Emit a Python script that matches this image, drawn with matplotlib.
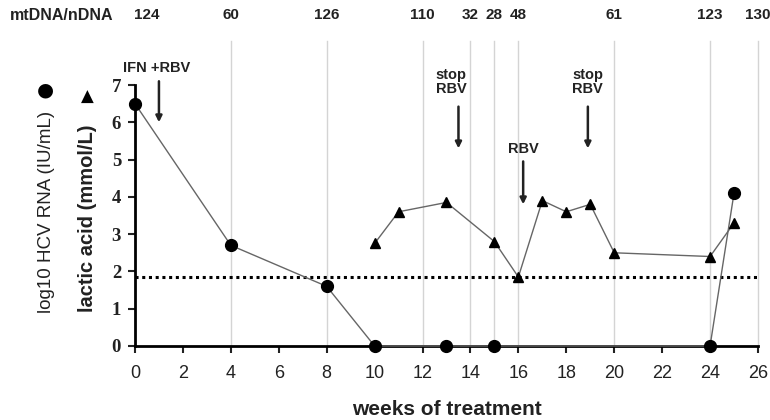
import matplotlib.pyplot as plt

# HCV RNA (log10 IU/mL), circles
hcv_weeks = [0, 4, 8, 10, 13, 15, 24, 25]
hcv_vals = [6.5, 2.7, 1.6, 0, 0, 0, 0, 4.1]

# lactic acid (mmol/L), triangles
lac_weeks = [10, 11, 13, 15, 16, 17, 18, 19, 20, 24, 25]
lac_vals = [2.75, 3.6, 3.85, 2.8, 1.85, 3.9, 3.6, 3.8, 2.5, 2.4, 3.3]

# mtDNA/nDNA ratio at sample weeks
mt_weeks = [0, 4, 8, 12, 14, 15, 16, 20, 24, 26]
mt_vals = [124, 60, 126, 110, 32, 28, 48, 61, 123, 130]
grid_weeks = [4, 8, 12, 14, 15, 16, 20, 24, 26]

lactate_limit = 1.84

# annotations: (text, text_x, text_y, arrow_x, arrow_top, arrow_bottom)
events = [
    ("IFN +RBV", 0.9, 7.46, 1.0, 7.1, 6.0),
    ("stop\nRBV", 13.2, 7.09, 13.5, 6.42, 5.3),
    ("RBV", 16.2, 5.28, 16.2, 4.95, 3.8),
    ("stop\nRBV", 18.9, 7.09, 18.9, 6.42, 5.3),
]

plt.rcParams['font.family'] = ['Liberation Sans', 'DejaVu Sans']

fig = plt.figure(figsize=(7.7, 4.2), dpi=100)
ax = fig.add_axes([0.1753, 0.1762, 0.8091, 0.6214])

ax.set_xlim(0, 26)
ax.set_ylim(0, 7)

# vertical grid lines reaching up to the top labels
for w in grid_weeks:
    ax.plot([w, w], [0, 8.17], color="#d4d4d4", lw=1, clip_on=False, zorder=0)

ax.axhline(lactate_limit, color="black", ls=(0, (1, 1.2)), lw=2.2, zorder=1)

ax.plot(hcv_weeks, hcv_vals, color="#666666", lw=1, marker="o", ms=8.5,
        mfc="black", mec="black", clip_on=False, zorder=3)
ax.plot(lac_weeks, lac_vals, color="#666666", lw=1, marker="^", ms=7.5,
        mfc="black", mec="black", clip_on=False, zorder=3)

for txt, tx, ty, axp, atop, abot in events:
    ax.text(tx, ty, txt, ha="center", va="center", fontsize=10.5,
            fontweight="bold", color="#222222", linespacing=1.0)
    ax.annotate("", xy=(axp, abot), xytext=(axp, atop),
                arrowprops=dict(arrowstyle="-|>", color="#222222", lw=1.8,
                                mutation_scale=9, shrinkA=0, shrinkB=0),
                annotation_clip=False)

# top row of mtDNA/nDNA values
for w, v in zip(mt_weeks, mt_vals):
    ax.text(w + (0.5 if w == 0 else 0), 8.87, str(v), ha="center", va="center",
            fontsize=11, fontweight="bold", color="#222222")
ax.text(-3.05, 8.87, "mtDNA/nDNA", ha="center", va="center", fontsize=11.5,
        fontweight="bold", color="#222222")

ax.spines["top"].set_visible(False)
ax.spines["right"].set_visible(False)
ax.spines["left"].set_linewidth(2)
ax.spines["bottom"].set_linewidth(2)

ax.set_xticks(range(0, 27, 2))
ax.set_yticks(range(0, 8))
ax.tick_params(axis="x", direction="out", length=5, width=1.5,
               labelsize=13, pad=9, colors="#222222")
ax.tick_params(axis="y", direction="out", length=5, width=1.5, pad=5,
               colors="#222222")
for lab in ax.get_yticklabels():
    lab.set_fontfamily("Liberation Serif")
    lab.set_fontweight("bold")
    lab.set_fontsize(13.5)

ax.set_xlabel("weeks of treatment", fontsize=15, fontweight="bold",
              labelpad=13, color="#222222")

fig.text(0.061, 0.496, "log10 HCV RNA (IU/mL)", rotation=90,
         ha="center", va="center", fontsize=13.5, color="#222222")
fig.text(0.113, 0.481, "lactic acid (mmol/L)", rotation=90,
         ha="center", va="center", fontsize=14.5, fontweight="bold",
         color="#222222")
fig.text(0.059, 0.786, "\u25cf", ha="center", va="center", fontsize=14,
         family="DejaVu Sans", color="black")
fig.text(0.114, 0.769, "\u25b2", ha="center", va="center", fontsize=12,
         family="DejaVu Sans", color="black")

fig.savefig("out.png", dpi=100)
